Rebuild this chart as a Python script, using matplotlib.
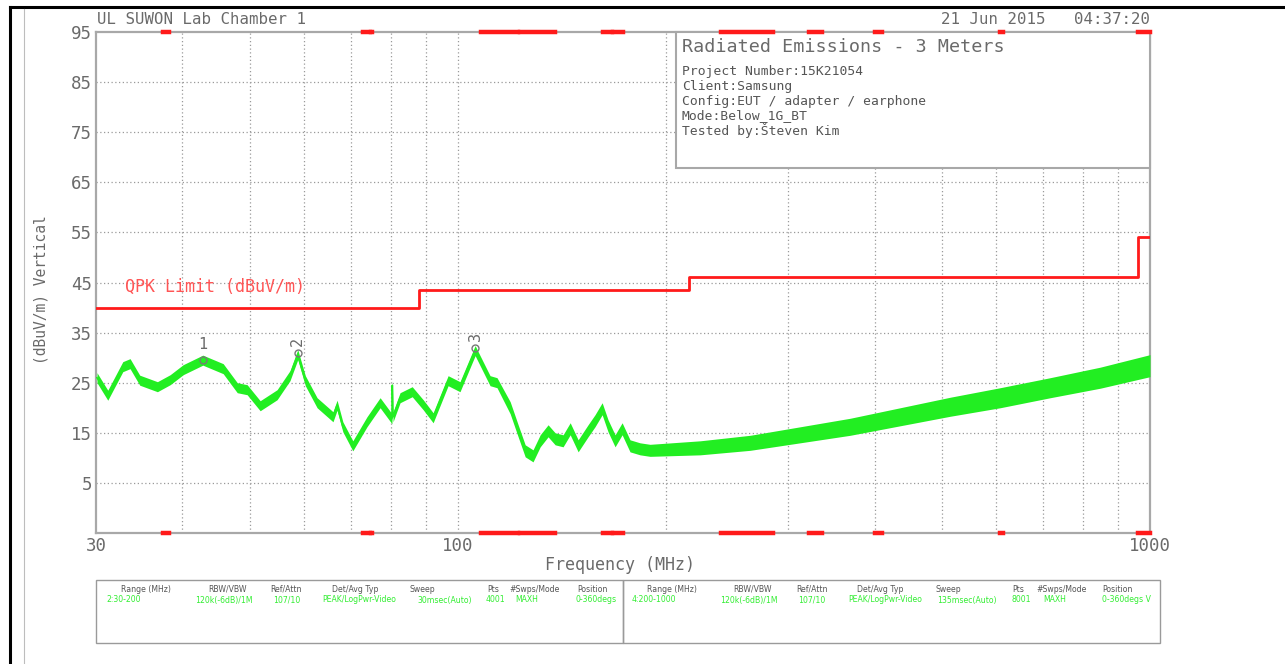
import matplotlib
matplotlib.use("Agg")
import matplotlib.pyplot as plt
from matplotlib.patches import Rectangle
from matplotlib.lines import Line2D

# ---------------- data ----------------
freq_mhz = [30.1, 31.2, 32.8, 33.6, 34.7, 36.8, 38.4, 40.1, 42.8, 45.8, 48.0, 49.6,
            51.8, 54.8, 57.2, 58.7, 60.2, 62.6, 66.0, 66.9, 68.2, 70.5, 73.9, 77.2,
            80.3, 80.4, 80.6, 82.5, 85.9, 89.1, 92.1, 96.8, 100.7, 105.9, 111.3,
            113.9, 119.0, 122.2, 125.1, 128.4, 131.5, 135.0, 138.2, 141.9, 145.3,
            149.2, 154.2, 157.8, 161.6, 164.8, 168.7, 172.7, 177.3, 183.3, 189.5,
            223.9, 264.4, 312.3, 368.8, 435.6, 514.5, 607.6, 717.6, 847.5, 1000.0]
level_dbuv = [26.0, 22.5, 28.2, 28.8, 25.5, 24.2, 25.6, 27.6, 29.5, 27.8, 24.0, 23.6,
              20.4, 22.6, 26.4, 30.6, 25.4, 21.0, 18.2, 20.5, 16.2, 12.4, 17.2, 21.0,
              17.8, 24.5, 18.2, 22.0, 23.2, 20.6, 18.0, 25.4, 24.2, 31.4, 25.4,
              25.0, 20.0, 15.4, 11.4, 10.4, 13.4, 15.4, 13.8, 13.4, 15.8,
              12.4, 15.4, 17.4, 19.8, 16.4, 13.4, 15.8, 12.4, 11.8, 11.5,
              12.0, 13.0, 14.6, 16.2, 18.2, 20.2, 22.0, 24.0, 26.0, 28.4]
spread_db = [1.0, 1.0, 1.0, 1.0, 1.0, 1.0, 1.0, 1.0, 1.0, 1.0, 1.0, 1.0,
             1.0, 1.0, 1.0, 1.0, 1.0, 1.0, 1.0, 1.0, 1.0, 1.0, 1.0, 1.0,
             1.0, 1.0, 1.0, 1.0, 1.0, 1.0, 1.0, 1.0, 1.0, 1.0, 1.0,
             1.0, 1.2, 1.2, 1.2, 1.2, 1.2, 1.2, 1.2, 1.2, 1.2,
             1.2, 1.2, 1.2, 1.2, 1.2, 1.2, 1.2, 1.2, 1.2, 1.2,
             1.4, 1.5, 1.6, 1.7, 1.8, 1.9, 2.0, 2.0, 2.1, 2.2]

limit_freq = [30, 88, 88, 216, 216, 960, 960, 1000]
limit_level = [40, 40, 43.5, 43.5, 46, 46, 54, 54]

restricted_bands = [(37.5, 38.25), (73.0, 74.6), (74.8, 75.2), (108.0, 121.94),
                    (123.0, 138.0), (149.9, 150.05), (156.52, 156.53), (156.7, 156.9),
                    (162.0125, 167.17), (167.72, 173.2), (240.0, 285.0),
                    (322.0, 335.4), (399.9, 410.0), (608.0, 614.0), (960.0, 1000.0)]

marker_ids = ["1", "2", "3"]
marker_freq = [42.8, 58.7, 105.9]
marker_level = [29.6, 31.0, 32.0]

y_ticks = [5, 15, 25, 35, 45, 55, 65, 75, 85, 95]
x_ticks = [30, 100, 1000]
x_grid = [40, 50, 60, 70, 80, 90, 100, 200, 300, 400, 500, 600, 700, 800, 900]

table_headers = ["Range (MHz)", "RBW/VBW", "Ref/Attn", "Det/Avg Typ", "Sweep",
                 "Pts", "#Swps/Mode", "Position"]
table_row1 = ["2:30-200", "120k(-6dB)/1M", "107/10", "PEAK/LogPwr-Video",
              "30msec(Auto)", "4001", "MAXH", "0-360degs"]
table_row2 = ["4:200-1000", "120k(-6dB)/1M", "107/10", "PEAK/LogPwr-Video",
              "135msec(Auto)", "8001", "MAXH", "0-360degs V"]

info_title = "Radiated Emissions - 3 Meters"
info_lines = ["Project Number:15K21054", "Client:Samsung",
              "Config:EUT / adapter / earphone", "Mode:Below_1G_BT",
              "Tested by:\u0160teven Kim"]

# ---------------- figure ----------------
W, H = 1285, 664
fig = plt.figure(figsize=(W / 100, H / 100), dpi=100)
fig.patch.set_facecolor("white")

def fx(px):
    return px / W

def fy(py):
    return 1 - py / H

MONO = "DejaVu Sans Mono"
GRAY = "#6a6a6a"
GREEN = "#22ee22"
RED = "#ff1a1a"

ax_l, ax_r, ax_t, ax_b = 96, 1150, 32, 533
ax = fig.add_axes([fx(ax_l), fy(ax_b), (ax_r - ax_l) / W, (ax_b - ax_t) / H])
ax.set_xscale("log")
ax.set_xlim(30, 1000)
ax.set_ylim(-5, 95)
for s in ax.spines.values():
    s.set_color("#a8a8a8")
    s.set_linewidth(1.6)

# grid
for yv in y_ticks[:-1]:
    ax.axhline(yv, color="#9a9a9a", lw=0.9, ls=(0, (1, 2)), zorder=1)
for xv in x_grid:
    ax.axvline(xv, color="#9a9a9a", lw=0.9, ls=(0, (1, 2)), zorder=1)

# trace
lo = [v - s for v, s in zip(level_dbuv, spread_db)]
hi = [v + s for v, s in zip(level_dbuv, spread_db)]
ax.fill_between(freq_mhz, lo, hi, color=GREEN, lw=0, zorder=3)
ax.plot(freq_mhz, level_dbuv, color=GREEN, lw=1.2, zorder=3)

# limit
ax.plot(limit_freq, limit_level, color=RED, lw=2.0, zorder=4)
ax.text(33.0, 44.2, "QPK Limit (dBuV/m)", color="#ff5555", fontsize=12,
        family=MONO, va="center", ha="left", zorder=4)

# info box
box = Rectangle((fx(676), fy(168)), fx(1150) - fx(676), fy(32) - fy(168),
                transform=fig.transFigure, facecolor="white", edgecolor="#a8a8a8",
                lw=1.5, zorder=5)
ax.add_patch(box)
box.set_clip_on(False)
fig.text(fx(682), fy(47), info_title, family=MONO, fontsize=13.2, color=GRAY,
         va="center", ha="left", zorder=6)
for i, line in enumerate(info_lines):
    fig.text(fx(682), fy(72 + i * 14.6), line, family=MONO, fontsize=9.4,
             color="#555555", va="center", ha="left", zorder=6)

# restricted band marks on top and bottom edges
for f1, f2 in restricted_bands:
    for yv in (95, -5):
        ax.plot([f1, f2], [yv, yv], color=RED, lw=3.2, solid_capstyle="projecting",
                clip_on=False, zorder=7)

# markers
for mid, mf, ml in zip(marker_ids, marker_freq, marker_level):
    ax.plot([mf], [ml], marker="o", ms=5, mfc="none", mec="#777777", mew=1.0, zorder=6)
    if mid == "1":
        ax.text(mf, ml + 1.6, mid, family=MONO, fontsize=11, color=GRAY,
                ha="center", va="bottom", zorder=6)
    else:
        ax.text(mf, ml + 1.3, mid, family=MONO, fontsize=11, color=GRAY,
                ha="center", va="bottom", rotation=90, zorder=6)

# ticks
ax.set_yticks(y_ticks)
ax.set_yticklabels([str(v) for v in y_ticks], family=MONO, fontsize=12.5, color=GRAY)
ax.set_xticks(x_ticks)
ax.set_xticklabels([str(v) for v in x_ticks], family=MONO, fontsize=12.5, color=GRAY)
ax.xaxis.set_minor_locator(matplotlib.ticker.NullLocator())
ax.tick_params(axis="both", length=0)
ax.tick_params(axis="y", pad=3)
ax.tick_params(axis="x", pad=3)

# labels
fig.text(fx(41), fy(290), "(dBuV/m) Vertical", family=MONO, fontsize=10.5,
         color=GRAY, rotation=90, ha="center", va="center")
fig.text(fx(620), fy(565), "Frequency (MHz)", family=MONO, fontsize=12,
         color=GRAY, ha="center", va="center")
fig.text(fx(97), fy(20), "UL SUWON Lab Chamber 1", family=MONO, fontsize=11.3,
         color=GRAY, ha="left", va="center")
fig.text(fx(1150), fy(20), "21 Jun 2015   04:37:20", family=MONO, fontsize=11.3,
         color=GRAY, ha="right", va="center")

# outer frame lines
fig.add_artist(Line2D([fx(10), fx(1285)], [fy(7), fy(7)], color="black", lw=2.2,
                      transform=fig.transFigure))
fig.add_artist(Line2D([fx(10), fx(10)], [fy(7), fy(664)], color="black", lw=2.2,
                      transform=fig.transFigure))
fig.add_artist(Line2D([fx(24), fx(24)], [fy(9), fy(664)], color="#bdbdbd", lw=0.8,
                      transform=fig.transFigure))

# bottom table
for (x0, x1) in [(96, 623), (623, 1160)]:
    fig.add_artist(Rectangle((fx(x0), fy(643)), fx(x1) - fx(x0), fy(580) - fy(643),
                             transform=fig.transFigure, facecolor="none",
                             edgecolor="#9a9a9a", lw=1.0))
hdr_x1 = [121, 208, 270, 332, 409, 487, 509, 577]
row_x1 = [106, 195, 273, 322, 417, 486, 515, 576]
hdr_x2 = [647, 733, 796, 857, 935, 1012, 1036, 1102]
row_x2 = [632, 720, 798, 848, 937, 1012, 1043, 1102]
for hx, txt in zip(hdr_x1 + hdr_x2, table_headers + table_headers):
    fig.text(fx(hx), fy(589), txt, family="DejaVu Sans", fontsize=5.6,
             color="#555555", ha="left", va="center")
for rx, txt in zip(row_x1 + row_x2, table_row1 + table_row2):
    fig.text(fx(rx), fy(600), txt, family="DejaVu Sans", fontsize=5.6,
             color="#33ee33", ha="left", va="center")

fig.savefig("out.png", dpi=100)
